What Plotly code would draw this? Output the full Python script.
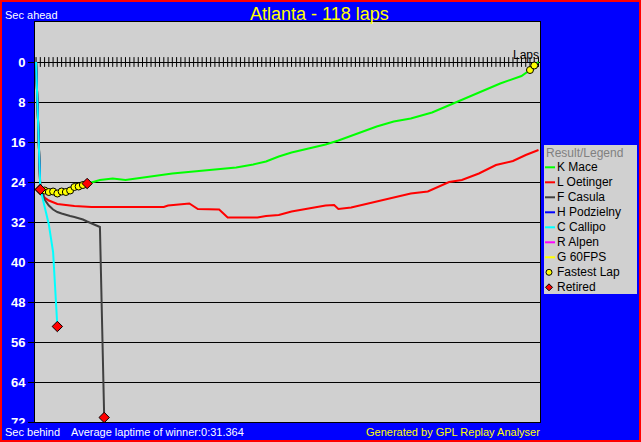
import plotly.graph_objects as go

# ---------------- data ----------------
TOTAL_LAPS = 118
title_text = "Atlanta - 118 laps"
avg_laptime = "0:31.364"

driver_names = ["K Mace", "L Oetinger", "F Casula", "H Podzielny", "C Callipo", "R Alpen", "G 60FPS"]
driver_colors = ["#00FF00", "#FF0000", "#404040", "#0000FF", "#00FFFF", "#FF00FF", "#FFFF00"]

mace_laps = [0, 1, 2, 3, 4, 5, 6, 7, 8, 9, 10, 11, 12, 13, 15, 18, 21, 26, 32, 37, 43, 47, 51, 54,
             57, 60, 64, 68, 71, 76, 80, 84, 88, 93, 98, 104, 109, 114, 116, 117, 118]
mace_secs = [0, 25.4, 25.8, 26.1, 26.0, 26.4, 26.0, 26.1, 25.8, 25.1, 25.0, 24.7, 24.3, 24.1, 23.6, 23.3,
             23.6, 23.0, 22.3, 21.9, 21.5, 21.1, 20.5, 19.9, 18.9, 18.1, 17.3, 16.5, 15.7, 14.2, 12.9,
             11.9, 11.3, 10.1, 8.3, 6.0, 4.3, 2.8, 1.6, 0.7, 0]

oetinger_laps = [0, 1, 2, 3, 5, 9, 13, 30, 31, 33, 36, 38, 43, 45, 52, 54, 57, 60, 64, 68, 70, 71, 74,
                 80, 88, 92, 97, 100, 104, 108, 112, 115, 118]
oetinger_secs = [0, 25.5, 27.1, 27.7, 28.4, 28.8, 29.0, 29.0, 28.7, 28.5, 28.3, 29.4, 29.5, 31.1, 31.1,
                 30.8, 30.6, 29.9, 29.3, 28.7, 28.6, 29.4, 29.1, 27.9, 26.3, 25.9, 24.0, 23.6, 22.3,
                 20.6, 19.8, 18.6, 17.6]

casula_laps = [0, 1, 2, 3, 4, 5, 6, 7, 8, 9, 10, 11, 12, 13, 14, 15, 16]
casula_secs = [0, 25.0, 27.5, 28.7, 29.5, 30.0, 30.3, 30.6, 30.8, 31.0, 31.2, 31.5, 31.9, 32.3, 32.6,
               33.0, 71.1]

podzielny_laps = [0, 1, 2, 3, 4, 5, 6, 7, 8, 9, 10, 11, 12]
podzielny_secs = [0, 25.4, 25.7, 26.0, 25.9, 26.3, 25.9, 26.0, 25.7, 25.0, 24.9, 24.6, 24.3]

callipo_laps = [0, 1, 2, 3, 4, 5]
callipo_secs = [0, 25.3, 28.9, 32.5, 38.0, 52.9]

alpen_laps = [0, 1]
alpen_secs = [0, 25.5]

fps_laps = [0, 1]
fps_secs = [0, 25.5]

retired_drivers = ["F Casula", "H Podzielny", "C Callipo", "R Alpen", "G 60FPS"]
fastest_lap_drivers = ["H Podzielny"] * 10 + ["K Mace", "K Mace"]
fastest_lap_laps = [2, 3, 4, 5, 6, 7, 8, 9, 10, 11, 116, 117]

y_ticks = [0, 8, 16, 24, 32, 40, 48, 56, 64, 72]

series = {
    "K Mace": (mace_laps, mace_secs),
    "L Oetinger": (oetinger_laps, oetinger_secs),
    "F Casula": (casula_laps, casula_secs),
    "H Podzielny": (podzielny_laps, podzielny_secs),
    "C Callipo": (callipo_laps, callipo_secs),
    "R Alpen": (alpen_laps, alpen_secs),
    "G 60FPS": (fps_laps, fps_secs),
}
color_of = dict(zip(driver_names, driver_colors))

# ---------------- layout geometry ----------------
W, H = 641, 442
ML, MR, MT, MB = 35, 101, 22, 20
PW, PH = W - ML - MR, H - MT - MB


def px(x):
    return (x - ML) / PW


def py(y):
    return (H - MB - y) / PH


BLUE = "#0000FF"
GRAY = "#D0D0D0"
FONT = "Liberation Sans, Arial, sans-serif"

fig = go.Figure()

# lap tick marks along the zero line
fig.add_trace(go.Scatter(
    x=list(range(0, TOTAL_LAPS + 1)), y=[0] * (TOTAL_LAPS + 1), mode="markers",
    marker=dict(symbol="line-ns", size=7, line=dict(width=1, color="black")),
    hoverinfo="skip", showlegend=False))

draw_order = ["R Alpen", "G 60FPS", "K Mace", "L Oetinger", "F Casula", "H Podzielny", "C Callipo"]
for name in draw_order:
    lx, ly = series[name]
    fig.add_trace(go.Scatter(x=lx, y=ly, mode="lines", name=name,
                             line=dict(color=color_of[name], width=2),
                             hoverinfo="skip", showlegend=False))

# fastest lap markers
fx, fy = [], []
for d, lap in zip(fastest_lap_drivers, fastest_lap_laps):
    lx, ly = series[d]
    fx.append(lap)
    fy.append(ly[lx.index(lap)])
fig.add_trace(go.Scatter(x=fx, y=fy, mode="markers",
                         marker=dict(symbol="circle", size=7, color="#FFFF00",
                                     line=dict(width=1, color="black")),
                         hoverinfo="skip", showlegend=False))

# retired markers
rx = [series[d][0][-1] for d in retired_drivers]
ry = [series[d][1][-1] for d in retired_drivers]
fig.add_trace(go.Scatter(x=rx, y=ry, mode="markers",
                         marker=dict(symbol="diamond", size=8, color="#FF0000",
                                     line=dict(width=1, color="black")),
                         hoverinfo="skip", showlegend=False))

shapes = []
annotations = []

# bottom strip (clips the lowest tick label as in the original)
shapes.append(dict(type="rect", xref="paper", yref="paper", x0=px(0), x1=px(34), y0=py(442), y1=py(423.5),
                   line=dict(width=0), fillcolor=BLUE, layer="above"))

# outer red frame
shapes.append(dict(type="rect", xref="paper", yref="paper", x0=px(1), x1=px(640), y0=py(1), y1=py(441),
                   line=dict(color="#FF0000", width=2), fillcolor="rgba(0,0,0,0)", layer="above"))

# legend box
LEG_X0, LEG_X1, LEG_Y0, LEG_Y1 = 544, 637, 145, 294
shapes.append(dict(type="rect", xref="paper", yref="paper", x0=px(LEG_X0), x1=px(LEG_X1),
                   y0=py(LEG_Y1), y1=py(LEG_Y0), line=dict(width=0), fillcolor=GRAY, layer="above"))
annotations.append(dict(xref="paper", yref="paper", x=px(544), y=py(152.7), xanchor="left", yanchor="middle",
                        text="Result/Legend", showarrow=False, font=dict(family=FONT, size=12, color="#808080")))
row0 = 167.3
for i, name in enumerate(driver_names):
    yc = row0 + 15 * i
    shapes.append(dict(type="line", xref="paper", yref="paper", x0=px(545), x1=px(555), y0=py(yc), y1=py(yc),
                       line=dict(color=color_of[name], width=2), layer="above"))
    annotations.append(dict(xref="paper", yref="paper", x=px(555), y=py(yc), xanchor="left", yanchor="middle",
                            text=name, showarrow=False, font=dict(family=FONT, size=12, color="black")))
yc = row0 + 15 * len(driver_names)
shapes.append(dict(type="circle", xref="paper", yref="paper", x0=px(546), x1=px(552), y0=py(yc + 3),
                   y1=py(yc - 3), fillcolor="#FFFF00", line=dict(color="black", width=1), layer="above"))
annotations.append(dict(xref="paper", yref="paper", x=px(555), y=py(yc), xanchor="left", yanchor="middle",
                        text="Fastest Lap", showarrow=False, font=dict(family=FONT, size=12, color="black")))
yc = row0 + 15 * (len(driver_names) + 1)
cx = 549
shapes.append(dict(type="path", xref="paper", yref="paper",
                   path=f"M {px(cx)},{py(yc-3.5)} L {px(cx+3.5)},{py(yc)} L {px(cx)},{py(yc+3.5)} L {px(cx-3.5)},{py(yc)} Z",
                   fillcolor="#FF0000", line=dict(color="black", width=1), layer="above"))
annotations.append(dict(xref="paper", yref="paper", x=px(555), y=py(yc), xanchor="left", yanchor="middle",
                        text="Retired", showarrow=False, font=dict(family=FONT, size=12, color="black")))

# title and labels
annotations.append(dict(xref="paper", yref="paper", x=px(319), y=py(13.5), xanchor="center", yanchor="middle",
                        text=title_text, showarrow=False, font=dict(family=FONT, size=18, color="#FFFF00")))
annotations.append(dict(xref="paper", yref="paper", x=px(3), y=py(15), xanchor="left", yanchor="middle",
                        text="Sec ahead", showarrow=False, font=dict(family=FONT, size=11, color="white")))
annotations.append(dict(xref="paper", yref="paper", x=px(3), y=py(432), xanchor="left", yanchor="middle",
                        text="Sec behind", showarrow=False, font=dict(family=FONT, size=11, color="white")))
annotations.append(dict(xref="paper", yref="paper", x=px(69), y=py(432), xanchor="left", yanchor="middle",
                        text="Average laptime of winner:" + avg_laptime, showarrow=False,
                        font=dict(family=FONT, size=11, color="white")))
annotations.append(dict(xref="paper", yref="paper", x=px(542), y=py(432), xanchor="right", yanchor="middle",
                        text="Generated by GPL Replay Analyser", showarrow=False,
                        font=dict(family=FONT, size=11, color="#FFFF00")))
annotations.append(dict(xref="paper", yref="paper", x=px(541), y=py(55), xanchor="right", yanchor="middle",
                        text="Laps", showarrow=False, font=dict(family=FONT, size=12, color="black")))

fig.update_layout(
    width=W, height=H,
    margin=dict(l=ML, r=MR, t=MT, b=MB, pad=0),
    paper_bgcolor=BLUE, plot_bgcolor=GRAY,
    showlegend=False,
    shapes=shapes, annotations=annotations,
    xaxis=dict(range=[-0.25, 118.35], showgrid=False, zeroline=False, showticklabels=False, ticks="",
               showline=True, mirror=True, linecolor="black", linewidth=1, fixedrange=True),
    yaxis=dict(range=[72, -8], tickvals=y_ticks, ticktext=[str(v) for v in y_ticks],
               showgrid=True, gridcolor="black", gridwidth=1, zeroline=False,
               ticks="outside", ticklen=6, tickcolor="black", tickwidth=1,
               tickfont=dict(family=FONT, size=13, color="white", weight="bold"),
               showline=True, mirror=True, linecolor="black", linewidth=1, fixedrange=True),
)

fig.write_html("out.html", config={"displayModeBar": False},
               post_script="document.body.style.margin='0';document.body.style.padding='0';")
